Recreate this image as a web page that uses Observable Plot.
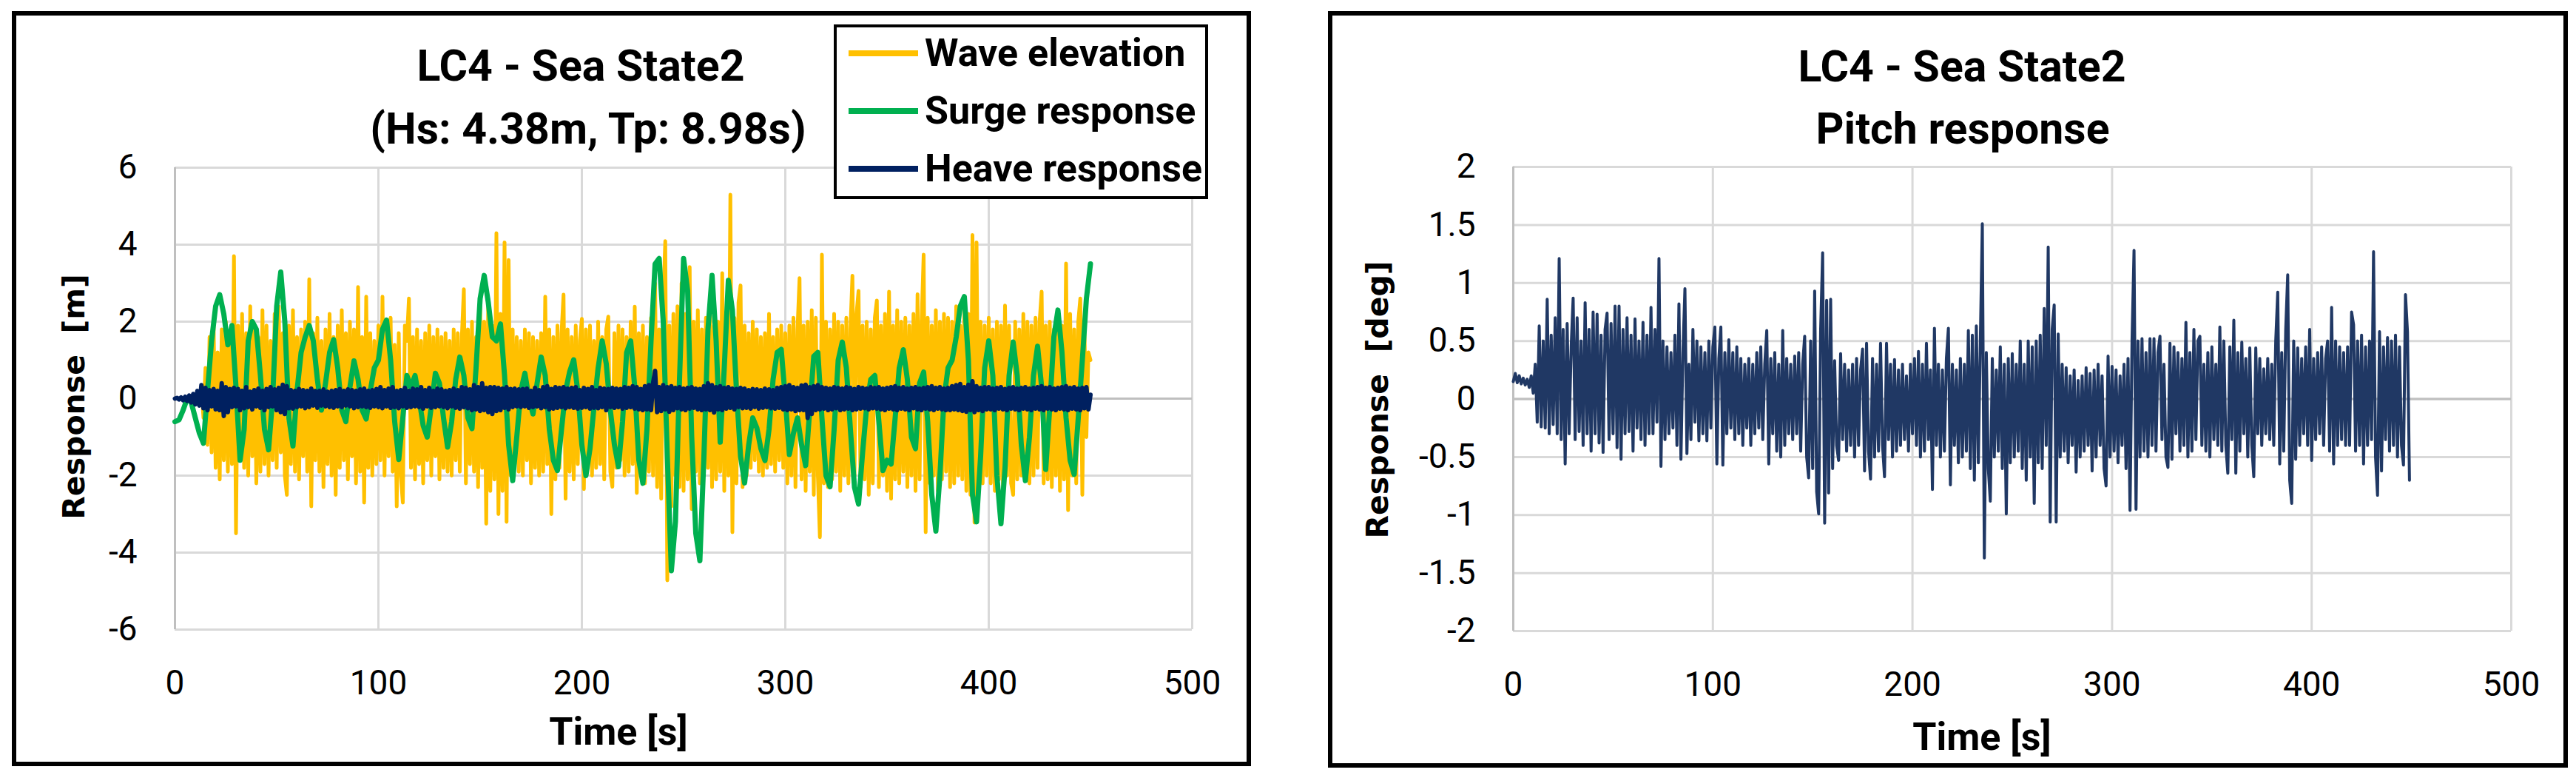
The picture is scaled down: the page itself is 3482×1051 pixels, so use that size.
<!DOCTYPE html>
<html>
<head>
<meta charset="utf-8">
<script src="https://cdn.jsdelivr.net/npm/d3@7"></script>
<script src="https://cdn.jsdelivr.net/npm/@observablehq/plot@0.6"></script>
<style>
  body { margin: 0; background: #fff; }
  #page { position: relative; width: 3482px; height: 1051px; overflow: hidden; background: #fff; }
  .cond { font-family: Roboto, "Liberation Sans", sans-serif; }
  .holder { position: absolute; top: 0; }
  .frame { position: absolute; border: 6px solid #000; box-sizing: border-box; }
  .title { position: absolute; width: 900px; text-align: center; font-weight: bold; font-size: 59px; line-height: 59px; white-space: nowrap; }
  .ylab { position: absolute; font-family: "DejaVu Sans", sans-serif; font-weight: 700; font-size: 41px; line-height: 1; white-space: pre; transform: translate(-50%, -50%) rotate(-90deg); }
  .xlab { position: absolute; font-weight: bold; font-size: 52px; line-height: 52px; white-space: nowrap; transform: translateX(-50%); }
  .legend { position: absolute; left: 1127px; top: 33px; width: 506px; height: 236px; border: 4px solid #000; box-sizing: border-box; background: #fff; }
  .swatch { position: absolute; left: 1147px; width: 94px; height: 8px; }
  .ltext { position: absolute; left: 1250px; font-weight: bold; font-size: 52px; line-height: 52px; white-space: nowrap; }
</style>
</head>
<body>
<div id="page"></div>
<script>
// time step of each record [s]
const waveStep = 1
const surgeStep = 2
const heaveStep = 1
const pitchStep = 1

// wave elevation [m], 1 s samples from t = 0
const waveElevation = [
  0,0,0,0,0,0,0,0,0,0,
  0,0.1,-0.1,0.3,-0.5,0.8,-1.2,1.6,-1.4,1.9,
  -1.8,1.2,-2.1,1.8,-1.6,2.0,-1.9,1.5,-1.7,3.7,
  -3.5,1.9,-1.6,2.2,-1.8,1.7,-2.0,2.4,-1.5,1.8,
  -2.2,1.6,-1.9,2.3,-1.7,1.9,-2.0,1.5,-1.6,2.2,
  -1.8,2.4,-1.4,1.7,-2.0,-2.5,1.9,-1.7,2.3,-1.9,
  1.6,-2.1,1.8,-1.5,2.0,-1.9,3.1,-2.8,1.7,-1.6,
  2.1,-1.9,1.5,-2.3,1.8,-1.7,2.2,-2.0,1.6,-2.5,
  1.9,-1.8,2.3,-1.6,1.7,-2.1,2.0,-1.5,1.8,-2.2,
  2.9,-1.9,1.6,-2.7,2.65,-1.8,1.7,-2.0,1.5,-1.7,
  1.9,-1.6,2.65,-2.0,1.8,-1.5,2.1,-1.9,1.4,-2.8,
  1.7,-2.0,-2.7,1.9,1.5,2.6,-1.8,1.6,-2.1,1.8,
  -1.7,1.5,-2.2,1.7,-1.6,1.9,-2.0,1.6,-1.5,1.8,
  -2.1,1.6,-1.8,1.7,-1.9,1.5,-2.0,1.8,-1.6,1.7,
  -1.9,1.6,2.84,-2.2,1.8,-1.7,2.0,-1.9,1.6,-2.3,
  2.4,-1.8,2.0,-3.25,2.6,-2.4,1.9,-2.1,4.3,-3.0,
  2.2,-2.4,4.06,-3.2,3.6,-2.0,1.8,-1.7,1.6,-1.9,
  1.5,-2.0,1.8,-1.6,1.7,-2.2,1.6,-1.8,1.5,-2.0,
  1.7,-1.9,2.65,-1.7,1.8,-3.0,1.6,-2.1,1.9,-1.8,
  1.7,2.7,-2.6,1.8,-1.9,1.6,-2.1,1.9,-1.7,1.5,
  2.07,-2.35,1.8,-1.6,1.9,-2.0,1.5,-1.8,2.0,-1.7,
  1.6,-2.1,1.8,2.13,-1.9,-2.29,1.7,-1.8,1.9,-1.6,
  1.8,-2.0,1.6,-1.9,2.0,-1.7,2.39,-2.45,1.7,-1.8,
  1.9,-2.2,1.6,-1.9,2.1,-2.0,3.0,-2.3,1.8,-2.6,
  2.5,4.09,-4.72,1.9,-2.8,2.2,-2.0,2.4,-2.3,3.0,
  -2.4,2.2,-2.1,3.42,-2.87,2.0,-1.9,2.3,-2.2,1.8,
  -2.0,2.1,-1.8,2.4,-2.3,1.9,-2.1,2.0,-1.9,3.26,
  -2.4,2.2,-2.0,5.3,-3.47,2.1,-2.2,2.5,2.94,-2.3,
  1.9,-2.0,1.7,-1.8,2.0,-1.6,1.8,-1.9,1.6,-2.0,
  1.7,-1.8,2.2,-1.7,1.6,-1.9,1.8,-1.6,1.9,-1.8,
  1.7,-2.2,1.9,-2.0,2.1,-2.3,1.8,3.13,-2.1,1.9,
  -2.4,2.0,-1.9,2.3,-2.5,2.1,-2.0,-3.6,3.74,-2.2,
  2.0,-2.3,1.8,-2.1,2.2,-1.9,2.0,-2.4,1.9,-2.0,
  2.1,-2.2,1.8,3.19,-2.0,2.2,2.8,-2.3,1.9,-2.1,
  2.0,-2.5,1.8,-2.2,2.1,2.55,-2.3,1.9,-2.0,2.2,
  -2.4,2.78,-2.6,1.9,-2.1,2.3,-2.2,2.0,-1.9,2.1,
  -2.3,1.9,-2.0,2.2,-2.4,2.71,-2.1,2.0,3.74,-3.47,
  2.1,-2.2,1.9,-2.0,2.3,-2.4,2.0,-2.1,2.2,-1.9,
  2.1,-2.3,2.0,-2.2,2.4,-2.0,1.9,-2.1,2.3,-2.4,
  2.2,-2.5,4.25,-3.22,4.06,-2.3,2.0,-2.2,1.9,-2.0,
  2.1,-2.2,1.8,-2.4,2.0,-2.1,1.9,-2.3,2.42,-2.0,
  1.9,-2.2,-2.5,2.0,-2.1,1.8,-2.0,2.2,-1.9,2.0,
  -2.2,1.9,-2.0,2.1,-1.8,2.0,2.78,-2.2,1.9,-2.1,
  2.0,-2.3,1.8,-2.0,2.2,-2.4,1.9,-2.1,3.51,-2.9,
  2.2,-2.0,1.8,-2.2,2.0,2.6,-2.5,1.9,-1.0,1.2,
  1.0
]

// surge response [m], 2 s samples
const surgeResponse = [
  -0.6,-0.55,-0.3,0.0,-0.1,-0.5,-0.9,-1.16,0.2,1.5,
  2.4,2.7,2.2,1.4,1.9,0.3,-1.6,-0.8,1.5,2.0,
  1.8,0.6,-0.8,-1.33,0.0,2.4,3.29,2.0,-0.5,-1.23,
  0.2,1.2,1.6,1.9,1.5,0.5,-0.3,0.4,1.2,1.53,
  0.8,-0.3,-0.6,0.3,0.98,0.5,-0.3,-0.53,0.2,0.8,
  1.0,1.8,2.04,1.0,-0.6,-1.58,-0.5,0.6,0.3,0.6,
  0.0,-0.7,-1.0,-0.2,0.66,0.4,-0.5,-1.26,-0.6,0.5,
  1.08,0.6,-0.5,-0.78,0.8,2.6,3.2,2.5,1.6,1.5,
  1.94,0.6,-1.2,-2.13,-1.0,0.2,0.66,0.0,-0.4,0.4,
  1.08,0.6,-0.8,-1.6,-1.87,-0.8,0.2,0.7,1.01,0.2,
  -1.2,-2.0,-1.3,-0.2,0.8,1.5,0.9,-0.3,-1.2,-1.77,
  -0.6,1.2,1.5,0.3,-1.6,-2.2,-0.8,1.5,3.5,3.64,
  2.0,-1.5,-4.47,-3.2,0.5,3.64,2.8,-1.0,-3.5,-4.21,
  -1.5,1.8,3.2,1.5,-1.13,0.8,3.07,2.3,0.2,-1.5,
  -2.19,-1.2,-0.5,-0.76,-1.3,-1.61,-0.8,0.5,1.2,1.28,
  0.0,-1.45,-0.9,-0.5,-1.2,-1.74,-0.3,1.1,1.2,-0.5,
  -2.0,-2.29,-0.8,1.0,1.47,0.8,-0.8,-2.3,-2.74,-1.4,
  -0.2,0.5,0.6,-0.6,-1.87,-1.6,-1.7,-0.5,0.8,1.27,
  0.5,-1.0,-1.3,0.4,0.69,-0.6,-2.5,-3.44,-2.0,0.0,
  0.8,1.0,1.6,2.4,2.65,1.0,-2.5,-3.2,-1.5,0.8,
  1.5,0.6,-2.0,-3.25,-1.8,0.6,1.47,0.6,-1.2,-2.13,
  -1.0,0.6,1.36,0.3,-1.84,-0.2,1.6,2.3,1.2,-0.5,
  -1.6,-1.97,-0.5,1.0,2.6,3.5
]

// heave response [m], 1 s samples
const heaveResponse = [
  0,0.02,-0.02,0.03,-0.04,0.05,-0.06,0.08,-0.1,0.12,
  -0.15,0.2,-0.18,0.35,-0.25,0.28,-0.3,0.22,-0.2,0.25,
  -0.28,0.2,-0.3,0.4,-0.45,0.3,-0.35,0.25,-0.22,0.28,
  -0.2,0.25,-0.3,0.2,-0.25,0.3,-0.22,0.18,-0.28,0.22,
  -0.2,0.26,-0.24,0.2,-0.3,0.25,-0.22,0.3,-0.2,0.24,
  -0.3,0.28,-0.35,0.36,-0.4,0.32,-0.25,0.22,-0.26,0.2,
  -0.22,0.25,-0.2,0.22,-0.25,0.2,-0.22,0.26,-0.18,0.2,
  -0.24,0.2,-0.18,0.24,-0.2,0.18,-0.22,0.2,-0.24,0.22,
  -0.2,0.25,-0.22,0.2,-0.18,0.24,-0.2,0.22,-0.25,0.2,
  -0.22,0.24,-0.2,0.26,-0.22,0.2,-0.24,0.22,-0.2,0.25,
  -0.22,0.3,-0.25,0.22,-0.2,0.26,-0.24,0.3,-0.22,0.2,
  -0.25,0.22,-0.2,0.28,-0.24,0.2,-0.22,0.26,-0.2,0.24,
  -0.22,0.3,-0.26,0.22,-0.2,0.28,-0.24,0.2,-0.22,0.26,
  -0.2,0.24,-0.22,0.2,-0.25,0.22,-0.2,0.26,-0.24,0.22,
  -0.26,0.3,-0.22,0.28,-0.25,0.24,-0.3,0.35,-0.28,0.3,
  -0.32,0.4,-0.3,0.28,-0.35,0.3,-0.4,0.3,-0.32,0.28,
  -0.3,0.26,-0.24,0.3,-0.28,0.25,-0.22,0.26,-0.2,0.24,
  -0.22,0.25,-0.2,0.26,-0.24,0.2,-0.22,0.28,-0.2,0.22,
  -0.25,0.3,-0.22,0.32,-0.28,0.25,-0.26,0.3,-0.24,0.28,
  -0.22,0.3,-0.25,0.26,-0.22,0.28,-0.24,0.3,-0.26,0.22,
  -0.24,0.28,-0.22,0.25,-0.26,0.3,-0.24,0.22,-0.25,0.28,
  -0.22,0.26,-0.3,0.25,-0.22,0.28,-0.24,0.26,-0.22,0.25,
  -0.26,0.3,-0.24,0.28,-0.22,0.32,-0.26,0.3,-0.28,0.25,
  -0.3,0.32,-0.28,0.35,-0.3,0.4,0.72,-0.35,0.3,-0.32,
  0.35,-0.28,0.3,-0.34,0.32,-0.3,0.28,-0.25,0.3,-0.28,
  0.26,-0.3,0.28,-0.26,0.3,-0.24,0.26,-0.28,0.25,-0.3,
  0.32,-0.28,0.4,-0.3,0.35,-0.36,0.3,-0.28,0.32,-0.3,
  0.28,-0.26,0.3,-0.24,0.26,-0.28,0.25,-0.22,0.28,-0.25,
  0.26,-0.24,0.22,-0.26,0.25,-0.22,0.24,-0.26,0.22,-0.24,
  0.26,-0.22,0.24,-0.25,0.22,-0.26,0.28,-0.24,0.3,-0.28,
  0.32,-0.3,0.35,-0.28,0.3,-0.32,0.28,-0.3,0.34,-0.3,
  0.36,-0.5,0.3,-0.4,0.32,-0.3,0.35,-0.28,0.3,-0.26,
  0.28,-0.3,0.26,-0.28,0.3,-0.25,0.28,-0.3,0.26,-0.28,
  0.3,-0.26,0.28,-0.3,0.25,-0.28,0.3,-0.26,0.28,-0.25,
  0.26,-0.28,0.3,-0.25,0.28,-0.26,0.3,-0.28,0.26,-0.3,
  0.28,-0.26,0.3,-0.28,0.32,-0.3,0.28,-0.26,0.3,-0.28,
  0.26,-0.3,0.28,-0.25,0.3,-0.28,0.26,-0.3,0.28,-0.26,
  0.3,-0.28,0.32,-0.3,0.28,-0.26,0.3,-0.28,0.26,-0.3,
  0.28,-0.3,0.32,-0.28,0.35,-0.3,0.38,-0.32,0.3,-0.34,
  0.36,-0.3,0.45,-0.35,0.32,-0.3,0.28,-0.32,0.3,-0.28,
  0.3,-0.28,0.26,-0.3,0.28,-0.26,0.3,-0.28,0.25,-0.3,
  0.28,-0.26,0.3,-0.28,0.26,-0.3,0.28,-0.26,0.3,-0.28,
  0.26,-0.3,0.28,-0.26,0.3,-0.28,0.32,-0.3,0.28,-0.26,
  0.3,-0.28,0.26,-0.3,0.28,-0.26,0.3,-0.28,0.32,-0.3,
  0.28,-0.26,0.3,-0.28,0.26,-0.3,0.28,-0.25,0.3,-0.28,
  0.1
]

// pitch response [deg], 1 s samples
const pitchResponse = [
  0.15,0.22,0.14,0.2,0.13,0.18,0.12,0.17,0.1,0.2,
  0.05,0.3,-0.2,0.63,-0.24,0.5,-0.25,0.86,-0.3,0.55,
  -0.22,0.7,-0.3,1.21,-0.35,0.6,-0.56,0.65,-0.3,0.45,
  0.87,-0.35,0.7,-0.28,0.5,-0.4,0.83,-0.3,0.6,-0.45,
  0.75,-0.3,0.73,-0.38,0.55,-0.46,0.6,0.74,-0.35,0.65,
  -0.3,0.8,-0.42,0.8,-0.52,0.6,-0.3,0.7,-0.28,0.55,
  -0.45,0.69,-0.25,0.5,-0.35,0.66,-0.4,0.55,-0.3,0.79,
  -0.3,0.6,-0.2,1.21,-0.58,0.5,-0.35,0.45,-0.3,0.4,
  -0.25,0.55,-0.4,0.82,-0.52,0.4,0.95,-0.47,0.3,-0.35,
  0.6,-0.2,0.5,-0.36,0.45,-0.3,0.4,-0.36,0.5,-0.25,
  0.45,0.62,-0.56,0.35,0.62,-0.57,0.4,-0.3,0.51,-0.25,
  0.4,-0.35,0.45,-0.3,0.35,-0.4,0.3,-0.25,0.35,-0.4,
  0.3,-0.3,0.4,-0.25,0.45,-0.35,0.3,0.59,-0.56,0.35,
  -0.3,0.4,-0.45,0.3,-0.5,0.59,-0.4,0.35,-0.3,0.3,
  -0.35,0.37,-0.3,0.4,-0.45,0.3,0.54,-0.5,-0.68,0.5,
  -0.6,0.93,-0.8,-0.99,0.6,1.26,-1.07,0.85,-0.81,0.86,
  -0.6,0.33,-0.4,-0.53,0.39,-0.35,0.3,-0.45,0.25,-0.4,
  0.3,-0.5,0.35,-0.4,0.25,0.43,-0.62,0.48,-0.45,-0.69,
  0.35,-0.5,0.3,-0.45,0.48,-0.4,-0.67,0.48,-0.35,0.3,
  -0.5,0.34,-0.45,0.25,-0.4,0.3,-0.35,0.2,-0.45,0.3,
  -0.3,0.35,-0.4,0.41,-0.5,0.3,-0.45,0.48,-0.35,0.25,
  -0.78,0.61,-0.4,0.3,-0.5,0.25,-0.45,0.35,0.61,-0.74,
  0.3,-0.4,0.25,-0.55,0.35,-0.5,0.3,-0.45,0.59,-0.6,
  0.55,-0.7,0.63,-0.55,0.5,1.51,-1.37,0.4,-0.6,-0.88,
  0.35,-0.5,0.25,-0.45,0.45,-0.6,0.3,-0.99,0.35,-0.55,
  0.39,-0.5,0.3,-0.45,0.5,-0.6,0.3,-0.7,0.5,-0.5,
  0.45,-0.9,0.5,-0.55,0.55,-0.6,0.78,-0.4,1.31,-1.06,
  0.6,0.81,-1.06,0.56,-0.5,0.3,-0.45,0.27,-0.55,0.2,
  -0.4,0.25,-0.63,0.16,-0.5,0.2,-0.45,0.27,-0.4,0.22,
  -0.62,0.25,-0.5,0.3,-0.4,0.2,-0.6,-0.75,0.37,-0.5,
  0.28,-0.45,0.25,-0.55,0.2,-0.4,0.3,-0.6,0.35,-0.96,
  0.5,1.28,-0.95,0.5,-0.5,0.52,-0.45,0.4,-0.5,0.52,
  -0.4,0.52,-0.45,0.4,0.54,-0.35,0.3,-0.5,-0.59,0.48,
  -0.52,0.45,-0.3,0.4,-0.45,0.35,-0.4,0.66,-0.5,0.4,
  -0.45,0.6,-0.35,0.5,0.54,-0.4,0.3,-0.45,0.4,-0.5,
  0.45,-0.35,0.3,-0.4,0.62,-0.45,0.5,-0.4,-0.64,0.45,
  -0.35,0.68,-0.64,0.4,-0.45,0.49,-0.3,0.35,-0.5,0.44,
  -0.4,-0.67,0.44,-0.3,0.35,-0.4,0.26,-0.3,0.35,-0.35,
  0.3,-0.4,0.5,0.92,-0.56,0.4,-0.45,0.6,1.07,-0.7,
  -0.9,0.5,-0.52,0.44,-0.4,0.35,-0.3,0.45,-0.4,0.6,
  -0.53,0.35,-0.35,0.4,-0.3,0.45,-0.4,0.35,0.5,-0.45,
  0.79,-0.56,0.5,-0.4,0.45,-0.35,0.4,-0.4,0.45,-0.4,
  0.75,0.64,-0.45,0.5,-0.4,0.55,-0.56,0.45,-0.4,0.5,
  -0.35,1.27,-0.5,-0.83,0.58,-0.62,0.45,-0.35,0.53,-0.45,
  0.5,-0.4,0.55,-0.5,0.45,-0.4,-0.57,0.9,0.58,-0.7
]

const xTicks = [0, 100, 200, 300, 400, 500]
const yTicksLeft = [-6, -4, -2, 0, 2, 4, 6]
const yTicksRight = [-2, -1.5, -1, -0.5, 0, 0.5, 1, 1.5, 2]

const seriesNames = ['Wave elevation', 'Surge response', 'Heave response']
const seriesColors = ['#FFC000', '#00B050', '#002060']
const pitchColor = '#203864'

const tickFont = 'Roboto, "Liberation Sans", sans-serif'

const toRows = (values, step) => values.map((v, i) => ({t: i * step, v}))

function background(yTicks) {
  return [
    Plot.gridX({ticks: xTicks, stroke: '#d9d9d9', strokeOpacity: 1, strokeWidth: 3}),
    Plot.gridY({ticks: yTicks, stroke: '#d9d9d9', strokeOpacity: 1, strokeWidth: 3}),
    Plot.ruleX([0], {stroke: '#bfbfbf', strokeWidth: 3}),
    Plot.ruleY([0], {stroke: '#bfbfbf', strokeWidth: 3}),
  ]
}

function axes(yTicks) {
  return [
    Plot.axisX({ticks: xTicks, tickSize: 0, tickPadding: 55, tickFormat: d => String(d), label: null, fontSize: 46}),
    Plot.axisY({ticks: yTicks, tickSize: 0, tickPadding: 51, tickFormat: d => String(d), label: null, fontSize: 46}),
  ]
}

const leftChart = Plot.plot({
  width: 1700,
  height: 1051,
  marginLeft: 236,
  marginRight: 89,
  marginTop: 226,
  marginBottom: 201,
  x: {domain: [0, 500]},
  y: {domain: [-6, 6]},
  style: {fontFamily: tickFont, fontSize: '46px', color: '#000', background: 'transparent', maxWidth: 'none'},
  marks: [
    ...background(yTicksLeft),
    Plot.line(toRows(waveElevation, waveStep), {x: 't', y: 'v', stroke: seriesColors[0], strokeWidth: 5}),
    Plot.line(toRows(surgeResponse, surgeStep), {x: 't', y: 'v', stroke: seriesColors[1], strokeWidth: 7}),
    Plot.line(toRows(heaveResponse, heaveStep), {x: 't', y: 'v', stroke: seriesColors[2], strokeWidth: 6}),
    ...axes(yTicksLeft),
  ]
})

const rightChart = Plot.plot({
  width: 1722,
  height: 1051,
  marginLeft: 285,
  marginRight: 88,
  marginTop: 225,
  marginBottom: 199,
  x: {domain: [0, 500]},
  y: {domain: [-2, 2]},
  style: {fontFamily: tickFont, fontSize: '46px', color: '#000', background: 'transparent', maxWidth: 'none'},
  marks: [
    ...background(yTicksRight),
    Plot.line(toRows(pitchResponse, pitchStep), {x: 't', y: 'v', stroke: pitchColor, strokeWidth: 4}),
    ...axes(yTicksRight),
  ]
})

const page = d3.select('#page')

page.append('div').attr('class', 'holder').style('left', '0px').style('width', '1700px').append(() => leftChart)
page.append('div').attr('class', 'holder').style('left', '1760px').style('width', '1722px').append(() => rightChart)

// panel frames
page.append('div').attr('class', 'frame')
  .style('left', '16px').style('top', '15px').style('width', '1675px').style('height', '1020px')
page.append('div').attr('class', 'frame')
  .style('left', '1795px').style('top', '15px').style('width', '1676px').style('height', '1022px')

// titles
page.append('div').attr('class', 'title cond').style('left', '335px').style('top', '59px').text('LC4 - Sea State2')
page.append('div').attr('class', 'title cond').style('left', '345px').style('top', '144px').text('(Hs: 4.38m, Tp: 8.98s)')
page.append('div').attr('class', 'title cond').style('left', '2202px').style('top', '60px').text('LC4 - Sea State2')
page.append('div').attr('class', 'title cond').style('left', '2203px').style('top', '144px').text('Pitch response')

// axis titles
page.append('div').attr('class', 'ylab').style('left', '100px').style('top', '536px').text('Response  [m]')
page.append('div').attr('class', 'ylab').style('left', '1862px').style('top', '540px').text('Response  [deg]')
page.append('div').attr('class', 'xlab cond').style('left', '836px').style('top', '963px').text('Time [s]')
page.append('div').attr('class', 'xlab cond').style('left', '2679px').style('top', '970px').text('Time [s]')

// legend
page.append('div').attr('class', 'legend')
const legendY = [72, 150, 228]
seriesNames.forEach((name, i) => {
  page.append('div').attr('class', 'swatch')
    .style('top', (legendY[i] - 4) + 'px')
    .style('background', seriesColors[i])
  page.append('div').attr('class', 'ltext cond')
    .style('top', (legendY[i] - 26) + 'px')
    .text(name)
})
</script>
</body>
</html>
